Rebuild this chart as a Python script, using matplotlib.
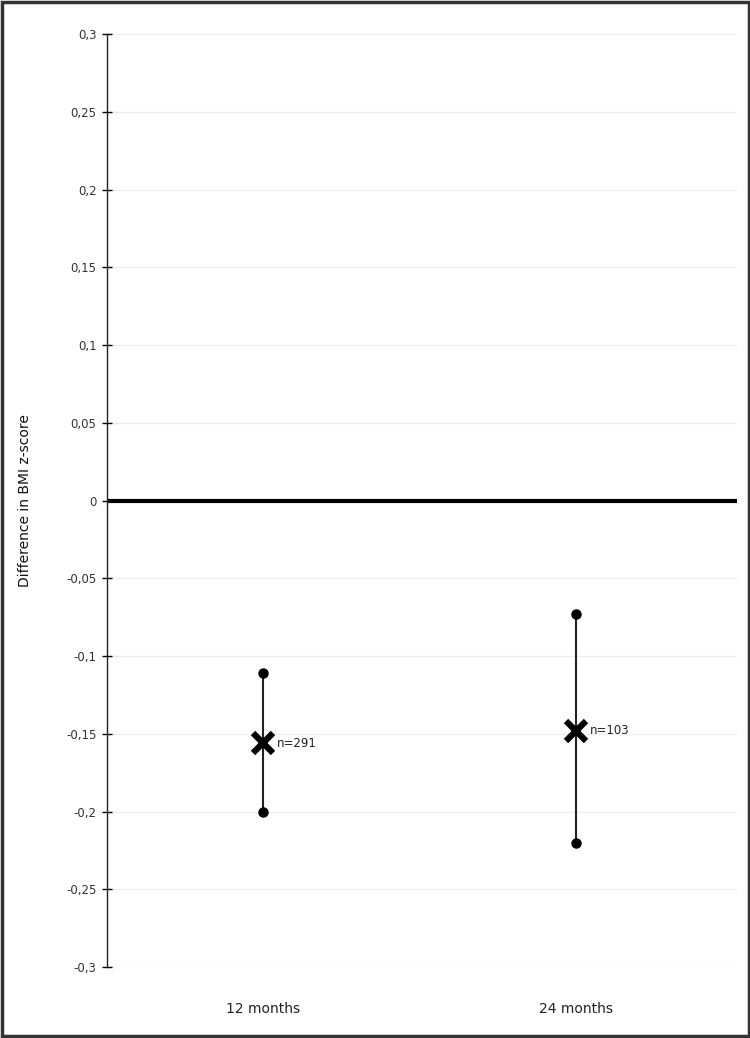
import matplotlib.pyplot as plt
from matplotlib.patches import Rectangle

# Data
groups = ['12 months', '24 months']
means = [-0.156, -0.148]
lower = [-0.200, -0.220]
upper = [-0.111, -0.073]
n_labels = ['n=291', 'n=103']
yticks = [0.3, 0.25, 0.2, 0.15, 0.1, 0.05, 0, -0.05, -0.1, -0.15, -0.2, -0.25, -0.3]

fig = plt.figure(figsize=(7.5, 10.38), dpi=100)
ax = fig.add_axes([107 / 750, 1 - 967 / 1038, 630 / 750, (967 - 34) / 1038])

# frame around the whole figure
fig.patches.append(Rectangle((0.002, 0.002), 0.996, 0.996, transform=fig.transFigure,
                             fill=False, edgecolor='#333333', linewidth=2.5))

# light gridlines
for t in yticks:
    ax.axhline(t, color='#eeeeee', linewidth=1, zorder=0)
ax.axhline(0, color='black', linewidth=3, zorder=2)

xs = list(range(len(groups)))
for x, m, lo, hi, lab in zip(xs, means, lower, upper, n_labels):
    ax.plot([x, x], [lo, hi], color='#222222', linewidth=1.5, zorder=3)
    ax.plot([x, x], [lo, hi], 'o', color='black', markersize=6.5, zorder=4)
    ax.plot(x, m, marker='x', color='black', markersize=14, markeredgewidth=4.5, zorder=5)
    ax.text(x + 0.043, m, lab, fontsize=8.5, va='center', ha='left', color='#222222')

ax.set_xlim(-0.5, 1.515)
ax.set_ylim(-0.3, 0.3)
ax.set_yticks(yticks)
ax.set_yticklabels([('%g' % t).replace('.', ',') for t in yticks], fontsize=8.5, color='#333333')
ax.set_xticks(xs)
ax.set_xticklabels(groups, fontsize=10, color='#222222')
ax.tick_params(axis='y', direction='inout', length=7, width=1, pad=4)
ax.tick_params(axis='x', length=0, pad=25)

for s in ['top', 'right', 'bottom']:
    ax.spines[s].set_visible(False)
ax.spines['left'].set_linewidth(1)
ax.spines['left'].set_color('#222222')

ax.set_ylabel('Difference in BMI z-score', fontsize=10, color='#111111')
ax.yaxis.set_label_coords(-(107 - 32) / 630, 0.5)

fig.savefig('out.png', dpi=100)
